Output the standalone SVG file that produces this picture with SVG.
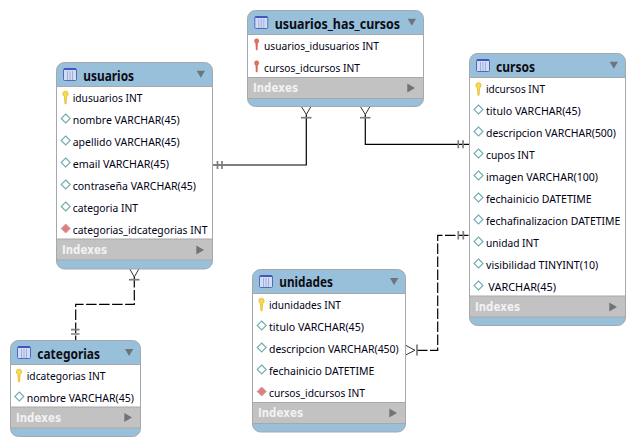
<svg xmlns="http://www.w3.org/2000/svg" width="635" height="446" viewBox="0 0 635 446">
<style>
.card{fill:#99c0da;stroke:#a3a9ad;stroke-width:1}
.rows{fill:#fff}
.sep{stroke:#a8a8a8;stroke-width:1;fill:none}
.band{fill:#c2c2c2}
.t{font-family:"Noto Sans","Liberation Sans",sans-serif;font-size:11.5px;fill:#000014}
.h{font-family:"Noto Sans","Liberation Sans",sans-serif;font-size:13.5px;font-weight:700;fill:#0c0c14}
.i{font-family:"DejaVu Sans",sans-serif;font-size:11.5px;font-weight:700;fill:#f2f2f2}
.tri{fill:#6f7478}
.c{fill:none;stroke:#000;stroke-width:1.2}
.d{stroke-dasharray:10.500 2.500}
.f{fill:none;stroke:#333;stroke-width:1}
.m{fill:none;stroke:#7c7c7c;stroke-width:1.700}
</style>
<defs>
<symbol id="tbl" overflow="visible"><rect x="0.500" y="0.500" width="13" height="12" rx="1" fill="#d3dcf2" stroke="#5268bd"/><path d="M1 1.200H13" stroke="#2f45c4" stroke-width="1.400" fill="none"/><path d="M4.500 3V12M7 3V12M9.500 3V12" stroke="#9db0dd" fill="none"/></symbol>
<symbol id="key" overflow="visible"><path d="M-2.600-4.200a2.600 2.600 0 0 1 5.200 0c0 1.500-.8 2.200-1.500 2.900L.6 5.800H-.6L-1.100-1.300C-1.900-2-2.600-2.700-2.600-4.200Z" fill="#f5dc4a" stroke="#dca913" stroke-width=".6"/></symbol>
<symbol id="fkey" overflow="visible"><path d="M-2.100-3.600a2.100 2.100 0 0 1 4.200 0c0 1.200-.6 1.900-1.300 2.500L.5 5.400H-.5L-.9-1.100C-1.500-1.700-2.100-2.400-2.100-3.600Z" fill="#e2705f" stroke="#c9503f" stroke-width=".5"/></symbol>
<symbol id="dia" overflow="visible"><path d="M0-4.500 4.500 0 0 4.500-4.500 0Z" fill="#fff" stroke="#6fadb2" stroke-width="1.100"/></symbol>
<symbol id="fdia" overflow="visible"><path d="M0-4.500 4.500 0 0 4.500-4.500 0Z" fill="#e27c7c" stroke="#c8a0a0"/></symbol>
</defs>

<g id="connectors">
<path class="c" d="M212.500 165H306.300V114.500"/>
<path class="m" d="M217.500 161V169M222 161V169"/>
<path class="f" d="M301.700 107 306.300 114.500 310.700 107"/>
<path class="m" d="M301 117.700H311.500"/>
<path class="c" d="M469 144.300H365.300V114.500"/>
<path class="m" d="M458.300 140.300V148.300M463 140.300V148.300"/>
<path class="f" d="M360.700 107 365.300 114.500 369.700 107"/>
<path class="m" d="M360 117.700H370.500"/>
<path class="c d" d="M417 350.300H437.700V235.300H469"/>
<path class="m" d="M458.300 231V239.500M463.300 231V239.500"/>
<path class="f" d="M406 345.500 415 350.300 406 354.800"/>
<path class="m" d="M417 344.500V355.500"/>
<path class="c d" d="M134.300 277V304.300H75.700V340"/>
<path class="m" d="M71 329.700H79.500M71 334H79.500"/>
<path class="f" d="M129.800 269 134.300 277 138.800 269"/>
<path class="m" d="M129 279.700H139.500"/>
</g>

<g id="usuarios">
<rect class="card" x="56.500" y="62.500" width="156" height="206.500" rx="8"/>
<rect class="rows" x="57" y="86.500" width="155" height="152.500"/>
<rect class="band" x="57" y="239" width="155" height="21"/>
<path class="sep" d="M57 86.500H212M57 239H212M57 260H212"/>
<use href="#tbl" x="63" y="68"/>
<text class="h" x="83.300" y="80.500" textLength="50.700" lengthAdjust="spacingAndGlyphs">usuarios</text>
<path class="tri" d="M196.700 70.700H205L200.800 77.700Z"/>
<use href="#key" x="65.500" y="98"/><text class="t" x="72.700" y="102" textLength="69.700" lengthAdjust="spacingAndGlyphs">idusuarios INT</text>
<use href="#dia" x="65.700" y="118.500"/><text class="t" x="72.700" y="124" textLength="107" lengthAdjust="spacingAndGlyphs">nombre VARCHAR(45)</text>
<use href="#dia" x="65.700" y="140.500"/><text class="t" x="72.700" y="146" textLength="107" lengthAdjust="spacingAndGlyphs">apellido VARCHAR(45)</text>
<use href="#dia" x="65.700" y="162.500"/><text class="t" x="72.700" y="168" textLength="96.300" lengthAdjust="spacingAndGlyphs">email VARCHAR(45)</text>
<use href="#dia" x="65.700" y="184.500"/><text class="t" x="72.700" y="190" textLength="123.300" lengthAdjust="spacingAndGlyphs">contraseña VARCHAR(45)</text>
<use href="#dia" x="65.700" y="206.500"/><text class="t" x="72.700" y="212" textLength="65.300" lengthAdjust="spacingAndGlyphs">categoria INT</text>
<use href="#fdia" x="65.700" y="228.500"/><text class="t" x="72.700" y="234" textLength="134.700" lengthAdjust="spacingAndGlyphs">categorias_idcategorias INT</text>
<text class="i" x="62" y="254" textLength="45" lengthAdjust="spacingAndGlyphs">Indexes</text>
<path class="tri" d="M196.300 245.500 204 250 196.300 254.500Z"/>
</g>

<g id="usuarios_has_cursos">
<rect class="card" x="247.500" y="10.500" width="176" height="96" rx="8"/>
<rect class="rows" x="248" y="34.500" width="175" height="43"/>
<rect class="band" x="248" y="77.500" width="175" height="21"/>
<path class="sep" d="M248 34.500H423M248 77.500H423M248 98.500H423"/>
<use href="#tbl" x="254.300" y="16"/>
<text class="h" x="274.700" y="28.800" textLength="125.300" lengthAdjust="spacingAndGlyphs">usuarios_has_cursos</text>
<path class="tri" d="M407.700 18.700H416L411.800 25.700Z"/>
<use href="#fkey" x="256.700" y="44.500"/><text class="t" x="264" y="50" textLength="115" lengthAdjust="spacingAndGlyphs">usuarios_idusuarios INT</text>
<use href="#fkey" x="256.700" y="66.500"/><text class="t" x="264" y="72" textLength="96" lengthAdjust="spacingAndGlyphs">cursos_idcursos INT</text>
<text class="i" x="253" y="92" textLength="45" lengthAdjust="spacingAndGlyphs">Indexes</text>
<path class="tri" d="M407.300 83.500 415 88 407.300 92.500Z"/>
</g>

<g id="cursos">
<rect class="card" x="469.500" y="53.500" width="156" height="272" rx="8"/>
<rect class="rows" x="470" y="77.500" width="155" height="218.500"/>
<rect class="band" x="470" y="296" width="155" height="21"/>
<path class="sep" d="M470 77.500H625M470 296H625M470 317H625"/>
<use href="#tbl" x="476" y="59"/>
<text class="h" x="496" y="71.500" textLength="39" lengthAdjust="spacingAndGlyphs">cursos</text>
<path class="tri" d="M609.700 61.700H618L613.800 68.700Z"/>
<use href="#key" x="478.500" y="89.500"/><text class="t" x="486" y="93" textLength="59" lengthAdjust="spacingAndGlyphs">idcursos INT</text>
<use href="#dia" x="478.500" y="109.500"/><text class="t" x="486" y="115" textLength="94.700" lengthAdjust="spacingAndGlyphs">titulo VARCHAR(45)</text>
<use href="#dia" x="478.500" y="131.500"/><text class="t" x="486" y="137" textLength="130" lengthAdjust="spacingAndGlyphs">descripcion VARCHAR(500)</text>
<use href="#dia" x="478.500" y="153.500"/><text class="t" x="486" y="159" textLength="48.700" lengthAdjust="spacingAndGlyphs">cupos INT</text>
<use href="#dia" x="478.500" y="175.500"/><text class="t" x="486" y="181" textLength="112" lengthAdjust="spacingAndGlyphs">imagen VARCHAR(100)</text>
<use href="#dia" x="478.500" y="197.500"/><text class="t" x="486" y="203" textLength="105.700" lengthAdjust="spacingAndGlyphs">fechainicio DATETIME</text>
<use href="#dia" x="478.500" y="219.500"/><text class="t" x="486" y="225" textLength="134.300" lengthAdjust="spacingAndGlyphs">fechafinalizacion DATETIME</text>
<use href="#dia" x="478.500" y="241.500"/><text class="t" x="486" y="247" textLength="53" lengthAdjust="spacingAndGlyphs">unidad INT</text>
<use href="#dia" x="478.500" y="263.500"/><text class="t" x="486" y="269" textLength="112.300" lengthAdjust="spacingAndGlyphs">visibilidad TINYINT(10)</text>
<use href="#dia" x="478.500" y="285.500"/><text class="t" x="488.300" y="291" textLength="67.700" lengthAdjust="spacingAndGlyphs">VARCHAR(45)</text>
<text class="i" x="475" y="311" textLength="45" lengthAdjust="spacingAndGlyphs">Indexes</text>
<path class="tri" d="M609.300 302.500 617 307 609.300 311.500Z"/>
</g>

<g id="unidades">
<rect class="card" x="252.500" y="269.500" width="153" height="162.500" rx="8"/>
<rect class="rows" x="253" y="293.500" width="152" height="109"/>
<rect class="band" x="253" y="402.500" width="152" height="21"/>
<path class="sep" d="M253 293.500H405M253 402.500H405M253 423.500H405"/>
<use href="#tbl" x="259" y="275"/>
<text class="h" x="279.300" y="287" textLength="53.700" lengthAdjust="spacingAndGlyphs">unidades</text>
<path class="tri" d="M390 278H398.300L394.100 285Z"/>
<use href="#key" x="261.500" y="305"/><text class="t" x="269" y="309" textLength="72" lengthAdjust="spacingAndGlyphs">idunidades INT</text>
<use href="#dia" x="261.700" y="325.500"/><text class="t" x="269" y="331" textLength="95" lengthAdjust="spacingAndGlyphs">titulo VARCHAR(45)</text>
<use href="#dia" x="261.700" y="347.500"/><text class="t" x="269" y="353" textLength="129.700" lengthAdjust="spacingAndGlyphs">descripcion VARCHAR(450)</text>
<use href="#dia" x="261.700" y="369.500"/><text class="t" x="269" y="375" textLength="105.300" lengthAdjust="spacingAndGlyphs">fechainicio DATETIME</text>
<use href="#fdia" x="261.700" y="391.500"/><text class="t" x="269" y="397" textLength="96" lengthAdjust="spacingAndGlyphs">cursos_idcursos INT</text>
<text class="i" x="258" y="417" textLength="45" lengthAdjust="spacingAndGlyphs">Indexes</text>
<path class="tri" d="M389.300 408.500 397 413 389.300 417.500Z"/>
</g>

<g id="categorias">
<rect class="card" x="10.500" y="340.500" width="130" height="96" rx="8"/>
<rect class="rows" x="11" y="364.500" width="129" height="42.500"/>
<rect class="band" x="11" y="407" width="129" height="21"/>
<path class="sep" d="M11 364.500H140M11 407H140M11 428H140"/>
<use href="#tbl" x="17" y="346"/>
<text class="h" x="37.300" y="358.500" textLength="62.700" lengthAdjust="spacingAndGlyphs">categorias</text>
<path class="tri" d="M125 349H133.300L129.100 356Z"/>
<use href="#key" x="19" y="376"/><text class="t" x="26.700" y="380" textLength="78.700" lengthAdjust="spacingAndGlyphs">idcategorias INT</text>
<use href="#dia" x="19.300" y="396.500"/><text class="t" x="26.700" y="402" textLength="107.300" lengthAdjust="spacingAndGlyphs">nombre VARCHAR(45)</text>
<text class="i" x="16" y="421.500" textLength="45" lengthAdjust="spacingAndGlyphs">Indexes</text>
<path class="tri" d="M124.300 413 132 417.500 124.300 422Z"/>
</g>
</svg>
